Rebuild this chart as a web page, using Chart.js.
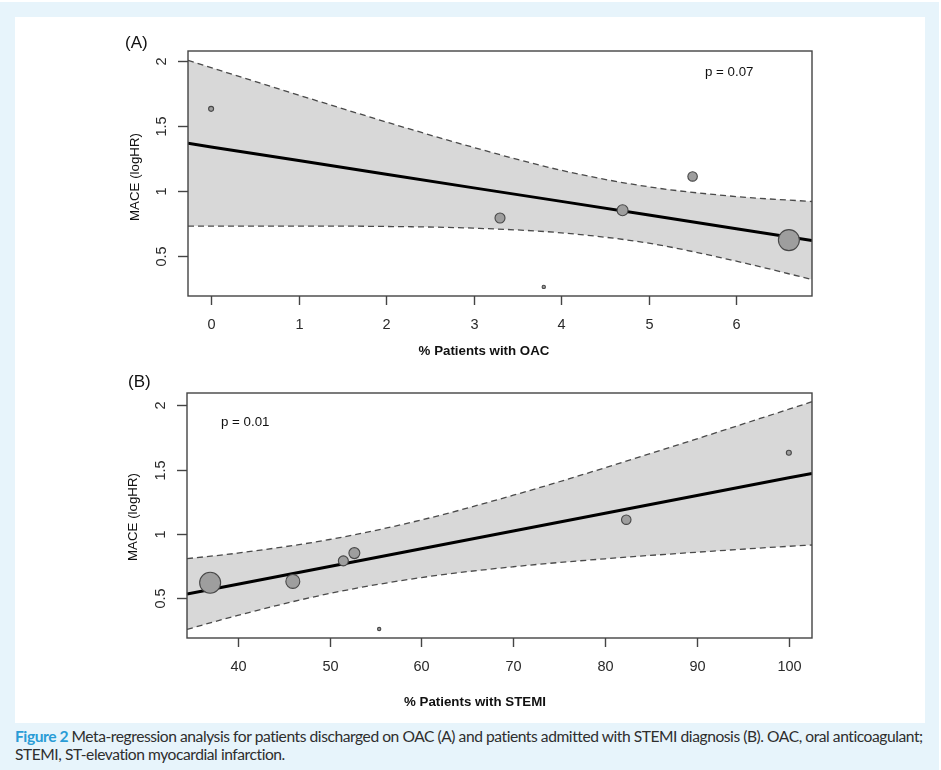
<!DOCTYPE html>
<html>
<head>
<meta charset="utf-8">
<script src="https://cdn.jsdelivr.net/npm/chart.js@4/dist/chart.umd.min.js"></script>
<style>
  html, body { margin:0; padding:0; background:#ffffff; width:941px; height:770px; overflow:hidden; }
  #bg { position:absolute; left:0; top:2px; width:939px; height:768px; background:#e7f4fb; }
  #panel { position:absolute; left:15px; top:17px; width:910px; height:706px; background:#ffffff; }
  canvas { position:absolute; }
  #cap { position:absolute; left:15px; top:727px; width:920px; font-family:"Lato", "Open Sans", sans-serif; font-size:15.6px; line-height:18px; color:#2e2e2e; white-space:nowrap; }
  #cap b { color:#2a9cd6; font-weight:700; }
</style>
</head>
<body>
<div id="bg"></div>
<div id="panel"></div>
<canvas id="chartA" width="740" height="345" style="left:100px;top:20px;width:740px;height:345px"></canvas>
<canvas id="chartB" width="740" height="345" style="left:100px;top:365px;width:740px;height:345px"></canvas>
<div id="cap"><span id="l1"><b>Figure 2</b> Meta-regression analysis for patients discharged on OAC (A) and patients admitted with STEMI diagnosis (B). OAC, oral anticoagulant;</span><br><span id="l2">STEMI, ST-elevation myocardial infarction.</span></div>
<script>
// ---- data ----
const studyMACE   = [1.63, 0.79, 0.26, 0.85, 1.11, 0.62, 0.63];
const studyOAC    = [0, 3.3, 3.8, 4.7, 5.5, 6.6, null];
const studySTEMI  = [100, 51.5, 55.4, 52.7, 82.3, 37, 46];
const studyWeight = [0.25, 1.0, 0.11, 1.2, 0.9, 4.4, 1.95];

const oacGrid   = [-0.264, 0, 1, 2, 3, 4, 5, 6, 6.864];
const oacFit    = [1.365, 1.337, 1.232, 1.127, 1.022, 0.918, 0.813, 0.708, 0.617];
const oacUpper  = [2.003, 1.947, 1.736, 1.529, 1.333, 1.157, 1.030, 0.955, 0.917];
const oacLower  = [0.728, 0.728, 0.728, 0.725, 0.712, 0.676, 0.596, 0.458, 0.317];

const stemiGrid  = [34.48, 40, 50, 60, 70, 80, 90, 100, 102.52];
const stemiFit   = [0.532, 0.608, 0.746, 0.884, 1.022, 1.160, 1.298, 1.436, 1.470];
const stemiUpper = [0.807, 0.850, 0.956, 1.108, 1.300, 1.514, 1.739, 1.969, 2.027];
const stemiLower = [0.257, 0.366, 0.536, 0.660, 0.744, 0.806, 0.857, 0.903, 0.913];

const oacTicks   = [0, 1, 2, 3, 4, 5, 6];
const stemiTicks = [40, 50, 60, 70, 80, 90, 100];
const yTicks     = [0.5, 1, 1.5, 2];
const yTickLabels = ['0.5', '1', '1.5', '2'];

const pValueA = 'p = 0.07';
const pValueB = 'p = 0.01';

// ---- helpers ----
const FONT = '"Liberation Sans", Arial, Helvetica, sans-serif';
function pts(xs, ys) { return xs.map((x, i) => ({x: x, y: ys[i]})).filter(p => p.x !== null); }
function studyPts(xs) {
  const out = [];
  xs.forEach((x, i) => { if (x !== null) out.push({x: x, y: studyMACE[i], w: studyWeight[i]}); });
  return out;
}

function makeAxesPlugin(cfg) {
  return {
    id: 'rAxes',
    afterDraw(chart) {
      const c = chart.ctx, a = chart.chartArea;
      const xs = chart.scales.x, ys = chart.scales.y;
      c.save();
      c.strokeStyle = '#444'; c.lineWidth = 1.4;
      c.strokeRect(a.left, a.top, a.right - a.left, a.bottom - a.top);
      c.fillStyle = '#2a2a2a';
      c.font = '14.5px ' + FONT;
      c.textAlign = 'center'; c.textBaseline = 'middle';
      // x ticks
      cfg.xTicks.forEach(v => {
        const px = Math.round(xs.getPixelForValue(v)) + 0.5;
        c.beginPath(); c.moveTo(px, a.bottom); c.lineTo(px, a.bottom + 9); c.stroke();
        c.fillText(String(v), px, a.bottom + cfg.xLabOff);
      });
      // y ticks (rotated labels)
      yTicks.forEach((v, i) => {
        const py = Math.round(ys.getPixelForValue(v)) + 0.5;
        c.beginPath(); c.moveTo(a.left, py); c.lineTo(a.left - 10, py); c.stroke();
        c.save(); c.translate(a.left - 26, py); c.rotate(-Math.PI / 2);
        c.fillText(yTickLabels[i], 0, 0); c.restore();
      });
      // titles
      c.font = 'bold 13.3px ' + FONT; c.fillStyle = '#111';
      c.fillText(cfg.xTitle, cfg.xTitleX, cfg.xTitleY);
      c.font = '13.3px ' + FONT;
      c.save(); c.translate(cfg.yTitleX, cfg.yTitleY); c.rotate(-Math.PI / 2);
      c.fillText('MACE (logHR)', 0, 0); c.restore();
      // panel letter
      c.font = '17px ' + FONT; c.textAlign = 'left';
      c.fillText(cfg.letter, cfg.letterX, cfg.letterY);
      // p value
      c.font = '13.3px ' + FONT;
      c.fillText(cfg.pText, cfg.pX, cfg.pY);
      c.restore();
    }
  };
}

function makeChart(id, grid, fit, upper, lower, studyX, xmin, xmax, ymin, ymax, pad, axcfg) {
  return new Chart(document.getElementById(id), {
    type: 'scatter',
    data: {
      datasets: [
        { data: pts(grid, upper), showLine: true, fill: 1, backgroundColor: '#d8d8d8',
          borderColor: '#4a4a4a', borderWidth: 1.3, borderDash: [6, 4], pointRadius: 0,
          cubicInterpolationMode: 'monotone', order: 3 },
        { data: pts(grid, lower), showLine: true, fill: false,
          borderColor: '#4a4a4a', borderWidth: 1.3, borderDash: [6, 4], pointRadius: 0,
          cubicInterpolationMode: 'monotone', order: 2 },
        { data: pts(grid, fit), showLine: true, fill: false, borderColor: '#000',
          borderWidth: 3, pointRadius: 0, order: 1 },
        { data: studyPts(studyX), showLine: false, backgroundColor: '#9e9e9e',
          borderColor: '#474747', borderWidth: 1.1,
          pointRadius: ctx => { const d = ctx.raw; return d ? 5 * Math.sqrt(d.w) : 3; },
          order: 0 }
      ]
    },
    options: {
      responsive: false, animation: false, devicePixelRatio: 1,
      layout: { padding: pad },
      plugins: { legend: { display: false }, tooltip: { enabled: false } },
      scales: {
        x: { type: 'linear', min: xmin, max: xmax, display: false },
        y: { type: 'linear', min: ymin, max: ymax, display: false }
      }
    },
    plugins: [makeAxesPlugin(axcfg)]
  });
}

makeChart('chartA', oacGrid, oacFit, oacUpper, oacLower, studyOAC,
  -0.264, 6.864, 0.19, 2.075,
  { left: 88, top: 31, right: 28, bottom: 69 },
  { xTicks: oacTicks, xLabOff: 29, xTitle: '% Patients with OAC', xTitleX: 384, xTitleY: 331,
    yTitleX: 35, yTitleY: 157, letter: '(A)', letterX: 25, letterY: 23,
    pText: pValueA, pX: 605, pY: 52 });

makeChart('chartB', stemiGrid, stemiFit, stemiUpper, stemiLower, studySTEMI,
  34.48, 102.52, 0.19, 2.095,
  { left: 87, top: 28, right: 28, bottom: 72 },
  { xTicks: stemiTicks, xLabOff: 29, xTitle: '% Patients with STEMI', xTitleX: 375, xTitleY: 337,
    yTitleX: 33, yTitleY: 152, letter: '(B)', letterX: 28, letterY: 17,
    pText: pValueB, pX: 121, pY: 57 });

// fit caption line width to the reference (layout only)
(function () {
  const l1 = document.getElementById('l1');
  const target = 908;
  const w = l1.getBoundingClientRect().width;
  const n = l1.textContent.length;
  const ls = (target - w) / n;
  document.getElementById('cap').style.letterSpacing = ls.toFixed(3) + 'px';
})();
</script>
</body>
</html>
